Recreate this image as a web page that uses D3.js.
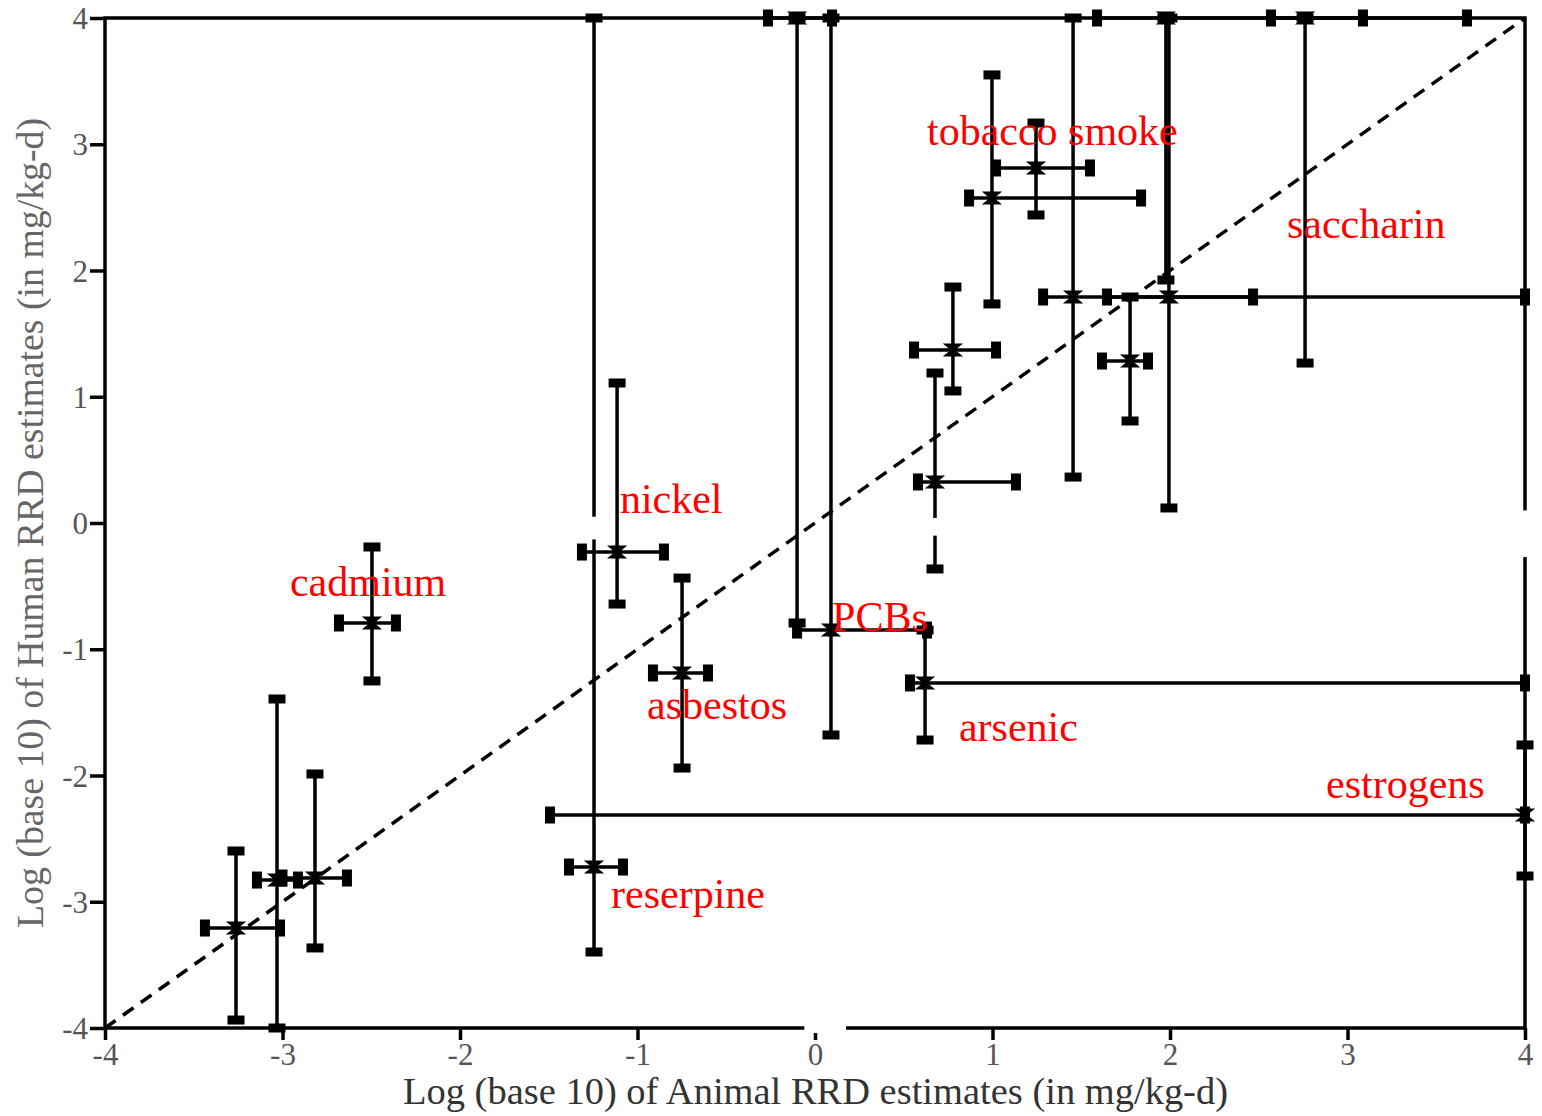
<!DOCTYPE html>
<html><head><meta charset="utf-8">
<script src="https://cdn.jsdelivr.net/npm/d3@7"></script>
<style>html,body{margin:0;padding:0;background:#fff;} svg{display:block;}</style>
</head><body>
<script>
// ---------- data (log10 of RRD estimates, mg/kg-d) ----------
const xTicks = [-4, -3, -2, -1, 0, 1, 2, 3, 4];
const yTicks = [-4, -3, -2, -1, 0, 1, 2, 3, 4];
const xTickLabels = ["-4", "-3", "-2", "-1", "0", "1", "2", "3", "4"];
const yTickLabels = ["-4", "-3", "-2", "-1", "0", "1", "2", "3", "4"];

// one entry per error-bar cross (values clipped to the [-4, 4] window)
const animalCenter = [-3.262, -3.031, -2.817, -2.496, -1.115, -1.245, -0.749, -0.101, 0.090, 0.620, 0.777, 0.676, 0.997, 1.245, 1.454, 1.994, 1.977, 1.775, 2.761, 4.000];
const animalLow    = [-3.437, -3.144, -3.000, -2.682, -1.313, -1.386, -0.913, -0.265, -0.101, 0.535, 0.558, 0.580, 0.868, 1.020, 1.285, 1.645, 1.589, 1.617, 2.569, -1.493];
const animalHigh   = [-3.014, -2.913, -2.637, -2.361, -0.851, -1.082, -0.603, 0.096, 0.631, 4.000, 1.020, 1.132, 1.837, 1.549, 2.468, 4.000, 3.087, 1.876, 3.673, 4.000];
const humanCenter  = [-3.208, -2.828, -2.812, -0.792, -0.230, -2.725, -1.188, 4.000, -0.848, -1.267, 1.370, 0.325, 2.574, 2.812, 1.790, 1.790, 4.000, 1.283, 4.000, -2.313];
const humanLow     = [-3.937, -4.000, -3.366, -1.251, -0.642, -3.398, -1.941, -0.792, -1.679, -1.719, 1.046, -0.364, 1.735, 2.440, 0.364, 0.119, 1.925, 0.808, 1.267, -2.796];
const humanHigh    = [-2.598, -1.394, -1.988, -0.190, 1.109, 4.000, -0.436, 4.000, 4.000, -0.848, 1.869, 1.188, 3.549, 3.168, 4.000, 4.000, 4.000, 1.790, 4.000, -1.758];

const labelNames  = ["tobacco smoke", "saccharin", "nickel", "cadmium", "PCBs", "asbestos", "arsenic", "estrogens", "reserpine"];
const labelAnimal = [0.631, 2.659, -1.099, -2.958, 0.096, -0.946, 0.811, 2.879, -1.149];
const labelHuman  = [2.994, 2.257, 0.079, -0.578, -0.855, -1.552, -1.727, -2.178, -3.050];

const xTitle = "Log (base 10) of Animal RRD estimates (in mg/kg-d)";
const yTitle = "Log (base 10) of Human RRD estimates (in mg/kg-d)";

// ---------- drawing ----------
const W = 1542, H = 1116;
const svg = d3.select("body").append("svg").attr("width", W).attr("height", H);
const x = d3.scaleLinear().domain([-4, 4]).range([105, 1525]);
const y = d3.scaleLinear().domain([-4, 4]).range([1028, 18]);

const crosses = animalCenter.map((d, i) => ({
  cx: d, cy: humanCenter[i], xl: animalLow[i], xh: animalHigh[i], yl: humanLow[i], yh: humanHigh[i]
}));

// frame
svg.append("rect").attr("x", x(-4)).attr("y", y(4))
  .attr("width", x(4) - x(-4)).attr("height", y(-4) - y(4))
  .attr("fill", "none").attr("stroke", "#000").attr("stroke-width", 3.5);

// axes
const xAxis = d3.axisBottom(x).tickValues(xTicks).tickFormat((d, i) => xTickLabels[i]).tickSize(12).tickPadding(3);
const yAxis = d3.axisLeft(y).tickValues(yTicks).tickFormat((d, i) => yTickLabels[i]).tickSize(15).tickPadding(2);
const gx = svg.append("g").attr("transform", `translate(0,${y(-4)})`).call(xAxis);
const gy = svg.append("g").attr("transform", `translate(${x(-4)},0)`).call(yAxis);
[gx, gy].forEach(g => {
  g.select(".domain").remove();
  g.selectAll(".tick line").attr("stroke", "#000").attr("stroke-width", 3.5);
  g.selectAll(".tick text").attr("font-family", "'Liberation Serif', 'Times New Roman', serif")
    .attr("font-size", 31).attr("fill", "#555");
});
gy.selectAll(".tick text").attr("dy", "0.34em");

// diagonal (y = x)
svg.append("line")
  .attr("x1", x(-4)).attr("y1", y(-4)).attr("x2", x(4)).attr("y2", y(4))
  .attr("stroke", "#000").attr("stroke-width", 3.5).attr("stroke-dasharray", "13,9");

// error bars
const g = svg.append("g");
g.selectAll("line.h").data(crosses).join("line").attr("class", "h")
  .attr("x1", d => x(d.xl)).attr("x2", d => x(d.xh))
  .attr("y1", d => y(d.cy)).attr("y2", d => y(d.cy))
  .attr("stroke", "#000").attr("stroke-width", 3.5);
g.selectAll("line.v").data(crosses).join("line").attr("class", "v")
  .attr("x1", d => x(d.cx)).attr("x2", d => x(d.cx))
  .attr("y1", d => y(d.yl)).attr("y2", d => y(d.yh))
  .attr("stroke", "#000").attr("stroke-width", 3.5);

// caps
const hCaps = crosses.flatMap(d => [{ax: d.xl, hy: d.cy}, {ax: d.xh, hy: d.cy}]);
const vCaps = crosses.flatMap(d => [{ax: d.cx, hy: d.yl}, {ax: d.cx, hy: d.yh}]);
g.selectAll("rect.hc").data(hCaps).join("rect").attr("class", "hc")
  .attr("x", d => x(d.ax) - 5).attr("y", d => y(d.hy) - 8.5)
  .attr("width", 10).attr("height", 17).attr("fill", "#000");
g.selectAll("rect.vc").data(vCaps).join("rect").attr("class", "vc")
  .attr("x", d => x(d.ax) - 8.5).attr("y", d => y(d.hy) - 4.5)
  .attr("width", 17).attr("height", 9).attr("fill", "#000");

// centre markers (hourglass)
svg.append("g").selectAll("path.c").data(crosses).join("path").attr("class", "c")
  .attr("transform", d => `translate(${x(d.cx)},${y(d.cy)})`)
  .attr("d", "M-6,-5 L6,-5 L-6,5 L6,5 Z")
  .attr("fill", "none").attr("stroke", "#000").attr("stroke-width", 3);

// small white breaks visible in the original around the zero lines
const breaks = [
  {x0: -0.06, x1: 0.175, y0: -3.975, y1: -4.04},
  {x0: 3.985, x1: 4.02, y0: 0.10, y1: -0.27},
  {x0: -1.27, x1: -1.22, y0: 0.05, y1: -0.13},
  {x0: 0.65, x1: 0.70, y0: 0.04, y1: -0.10}
];
svg.selectAll("rect.brk").data(breaks).join("rect").attr("class", "brk")
  .attr("x", d => x(d.x0)).attr("width", d => x(d.x1) - x(d.x0))
  .attr("y", d => y(d.y0)).attr("height", d => y(d.y1) - y(d.y0))
  .attr("fill", "#fff");

// chemical labels
svg.selectAll("text.lab").data(labelNames).join("text").attr("class", "lab")
  .attr("x", (d, i) => x(labelAnimal[i])).attr("y", (d, i) => y(labelHuman[i]))
  .attr("font-family", "'Liberation Serif', 'Times New Roman', serif")
  .attr("font-size", 42).attr("fill", "#ff0000").text(d => d);

// axis titles
svg.append("text").attr("x", 403).attr("y", 1104)
  .attr("font-family", "'Liberation Serif', 'Times New Roman', serif")
  .attr("font-size", 37).attr("fill", "#333")
  .attr("textLength", 825).attr("lengthAdjust", "spacingAndGlyphs")
  .text(xTitle);
svg.append("text").attr("transform", "translate(43,523) rotate(-90)")
  .attr("text-anchor", "middle")
  .attr("font-family", "'Liberation Serif', 'Times New Roman', serif")
  .attr("font-size", 37).attr("fill", "#666")
  .attr("textLength", 810).attr("lengthAdjust", "spacingAndGlyphs")
  .text(yTitle);
</script>
</body></html>
